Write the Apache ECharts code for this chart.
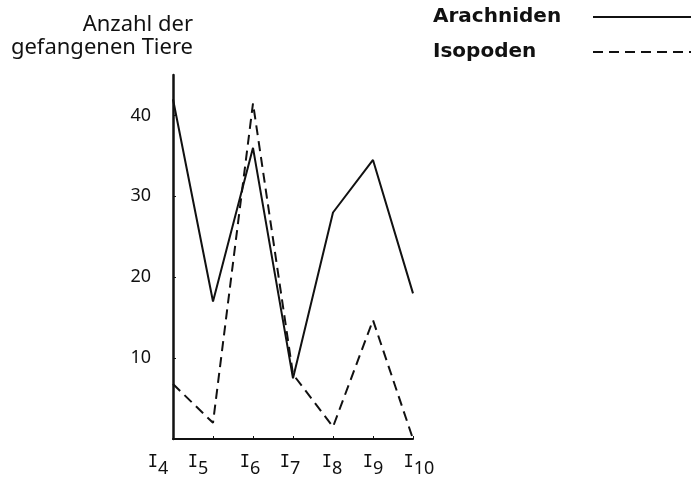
<!DOCTYPE html>
<html>
<head>
<meta charset="utf-8">
<script src="https://cdn.jsdelivr.net/npm/echarts@6/dist/echarts.min.js"></script>
<style>
  html, body { margin: 0; padding: 0; background: #fff; }
  #chart { width: 691px; height: 481px; }
</style>
</head>
<body>
<div id="chart"></div>
<script>
// Fangstellen I4 .. I10
const categories = ['4', '5', '6', '7', '8', '9', '10'];
const arachniden = [42, 17, 36, 7.5, 28, 34.5, 18];
const isopoden = [6.8, 2, 41.5, 8, 1.5, 14.7, 0];
const yTicks = [10, 20, 30, 40];
// hand-lettered labels sit a bit off their ticks (px, negative = left)
const labelShift = [-15, -15, -3, -3, -1, 0, 6];

const chart = echarts.init(document.getElementById('chart'));
const font = 'Noto Sans';

chart.setOption({
  animation: false,
  backgroundColor: '#fff',
  graphic: [{
    type: 'text',
    x: 193,
    y: 13,
    style: {
      text: 'Anzahl der\ngefangenen Tiere',
      align: 'right',
      verticalAlign: 'top',
      fontFamily: font,
      fontSize: 22,
      lineHeight: 23,
      fill: '#111'
    }
  }],
  legend: {
    orient: 'vertical',
    left: 428,
    top: 2,
    align: 'right',
    itemWidth: 100,
    itemHeight: 20,
    itemGap: 15,
    itemStyle: { opacity: 0 },
    formatter: (name) => '{n|' + name + '}',
    textStyle: {
      rich: {
        n: {
          width: 155,
          align: 'left',
          fontFamily: 'DejaVu Sans',
          fontWeight: 'bold',
          fontSize: 20,
          color: '#111'
        }
      }
    },
    data: ['Arachniden', 'Isopoden']
  },
  grid: {
    left: 173,
    right: 278,
    top: 75,
    bottom: 42
  },
  xAxis: {
    type: 'category',
    boundaryGap: false,
    data: categories,
    axisLine: { lineStyle: { color: '#111', width: 2 } },
    axisTick: { show: true, length: 3, inside: true, interval: 0, lineStyle: { color: '#111' } },
    axisLabel: {
      interval: 0,
      margin: 15,
      formatter: (v, i) => {
        const s = labelShift[i] || 0;
        const pad = Math.abs(s) * 2;
        const sp = pad ? '{s' + pad + '|}' : '';
        return (s > 0 ? sp : '') + '{a|I}{b|' + v + '}' + (s < 0 ? sp : '');
      },
      rich: Object.assign({
        a: { fontFamily: 'DejaVu Sans Mono', fontSize: 17, color: '#111', verticalAlign: 'top', lineHeight: 24 },
        b: { fontFamily: font, fontSize: 18, color: '#111', verticalAlign: 'bottom', lineHeight: 24 }
      }, Object.fromEntries(labelShift.map(s => ['s' + Math.abs(s) * 2, { width: Math.abs(s) * 2 }])))
    }
  },
  yAxis: {
    type: 'value',
    min: 0,
    max: 45,
    interval: 10,
    splitLine: { show: false },
    axisLine: { show: true, lineStyle: { color: '#111', width: 2.5 } },
    axisTick: { show: true, length: 3, inside: true, customValues: yTicks, lineStyle: { color: '#111' } },
    axisLabel: {
      margin: 22,
      customValues: yTicks,
      fontFamily: font,
      fontSize: 18,
      color: '#111'
    }
  },
  series: [
    {
      name: 'Arachniden',
      type: 'line',
      symbol: 'none',
      data: arachniden,
      lineStyle: { color: '#111', width: 2 },
      itemStyle: { color: '#111' }
    },
    {
      name: 'Isopoden',
      type: 'line',
      symbol: 'none',
      data: isopoden,
      lineStyle: { color: '#111', width: 2, type: [10, 6] },
      itemStyle: { color: '#111' }
    }
  ]
});
</script>
</body>
</html>
